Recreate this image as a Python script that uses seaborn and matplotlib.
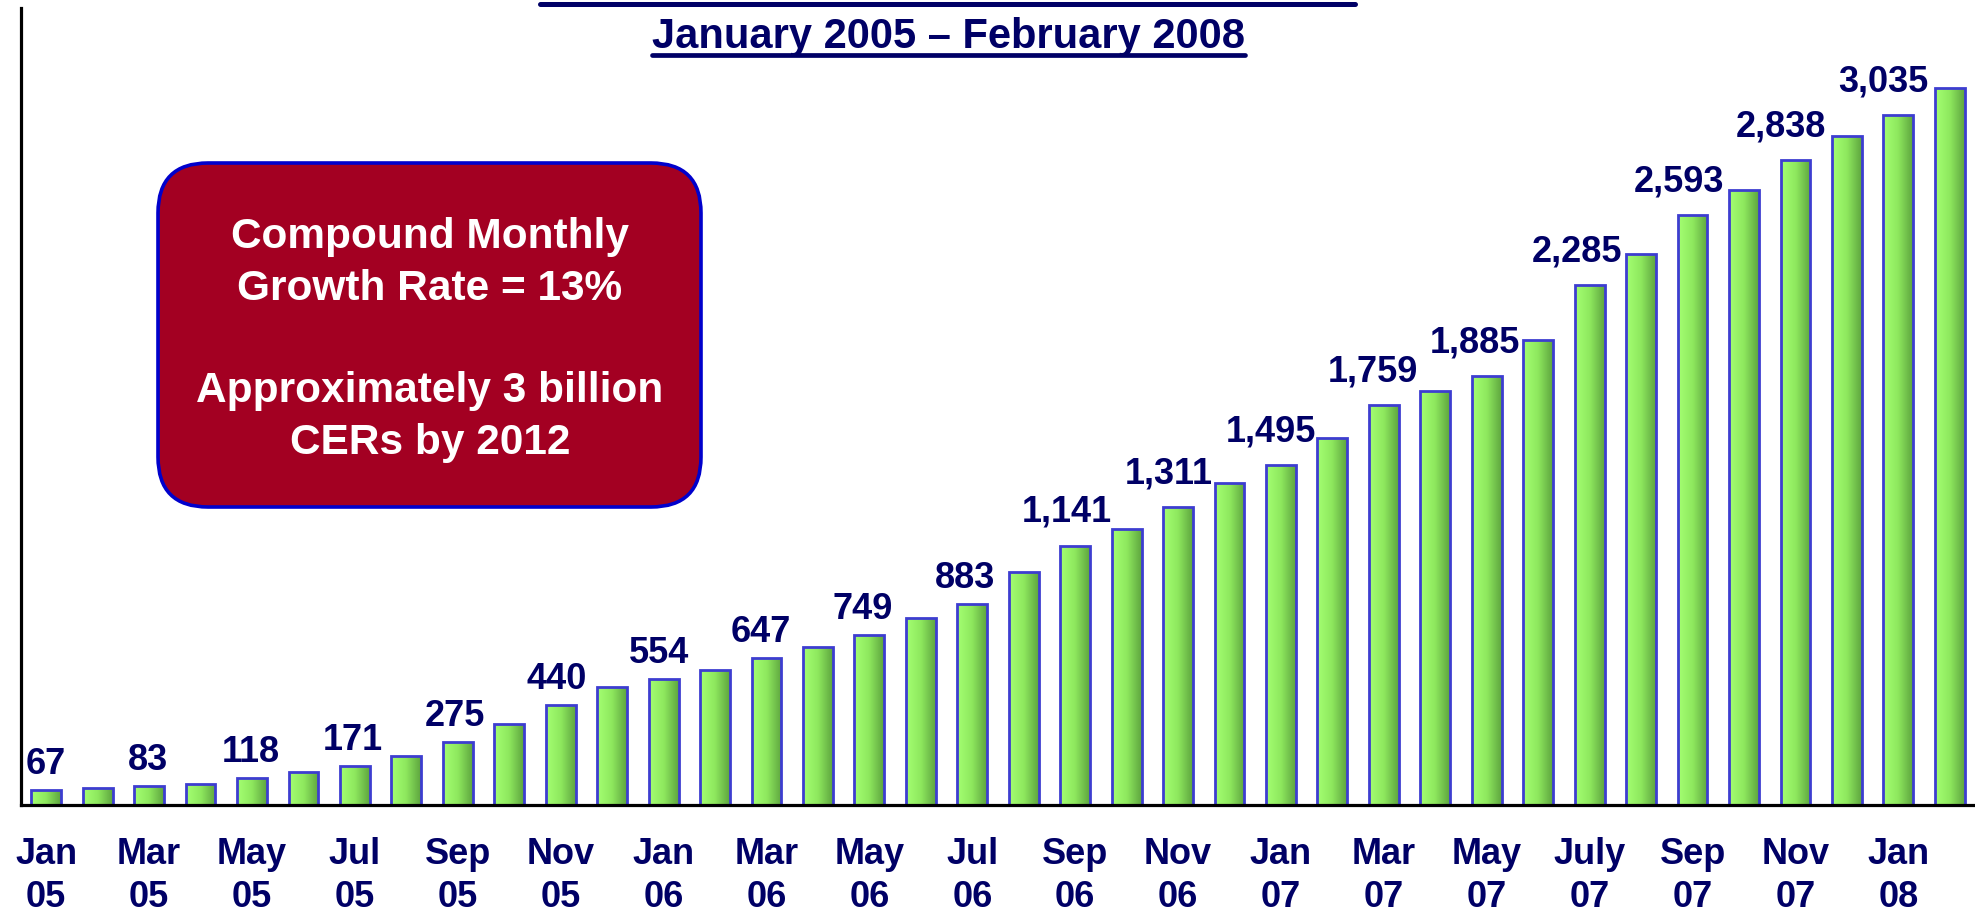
import numpy as np
import pandas as pd
import matplotlib
matplotlib.use("Agg")
import matplotlib.pyplot as plt
import seaborn as sns
from matplotlib.colors import LinearSegmentedColormap
from matplotlib.patches import FancyBboxPatch
from matplotlib.lines import Line2D

# --- data (cumulative CERs, millions) ---
months = [
    "Jan 05", "Feb 05", "Mar 05", "Apr 05", "May 05", "Jun 05", "Jul 05", "Aug 05",
    "Sep 05", "Oct 05", "Nov 05", "Dec 05", "Jan 06", "Feb 06", "Mar 06", "Apr 06",
    "May 06", "Jun 06", "Jul 06", "Aug 06", "Sep 06", "Oct 06", "Nov 06", "Dec 06",
    "Jan 07", "Feb 07", "Mar 07", "Apr 07", "May 07", "Jun 07", "Jul 07", "Aug 07",
    "Sep 07", "Oct 07", "Nov 07", "Dec 07", "Jan 08", "Feb 08",
]
cers = [
    67, 73, 83, 92, 118, 146, 171, 215, 275, 357, 440, 519, 554, 593, 647, 695,
    749, 821, 883, 1024, 1141, 1212, 1311, 1414, 1495, 1612, 1759, 1820, 1885, 2043,
    2285, 2425, 2593, 2703, 2838, 2944, 3035, 3152,
]
tick_labels = [
    "Jan\n05", "Mar\n05", "May\n05", "Jul\n05", "Sep\n05", "Nov\n05",
    "Jan\n06", "Mar\n06", "May\n06", "Jul\n06", "Sep\n06", "Nov\n06",
    "Jan\n07", "Mar\n07", "May\n07", "July\n07", "Sep\n07", "Nov\n07",
    "Jan\n08",
]
title = "January 2005 \u2013 February 2008"
box_text = "Compound Monthly\nGrowth Rate = 13%\n\nApproximately 3 billion\nCERs by 2012"

NAVY = "#000066"

sns.set_style("white")
plt.rcParams['font.family'] = ['Liberation Sans', 'DejaVu Sans']

df = pd.DataFrame({"month": months, "cers": cers})

W, H = 1975, 911
fig = plt.figure(figsize=(W / 100, H / 100), dpi=100)
ax = fig.add_axes([20.5 / W, 1 - 805 / H, 1 - 20.5 / W, (805 - 8) / H])

sns.barplot(data=df, x="month", y="cers", order=months, color="#8fe05a",
            saturation=1, width=0.58, edgecolor="#3d3dd0", linewidth=2,
            ax=ax, zorder=2)

# green left-to-right gradient inside every bar
cmap = LinearSegmentedColormap.from_list("bar", ["#a4ff72", "#8ee85e", "#5ea53f"])
grad = np.linspace(0, 1, 64).reshape(1, -1)
for patch in ax.patches:
    patch.set_facecolor("none")
    x0, y0 = patch.get_x(), patch.get_y()
    im = ax.imshow(grad, extent=[x0, x0 + patch.get_width(), y0, y0 + patch.get_height()],
                   aspect="auto", cmap=cmap, zorder=1.5, interpolation="bilinear")
    im.set_clip_path(patch)

ax.set_xlim(-0.50, 37.49)
ax.set_ylim(0, 3505)

# value labels on every second bar (labels with a comma sit a little higher,
# as in the original where the comma's descent lifts the text box)
for i in range(0, len(cers), 2):
    lift = 17 if cers[i] >= 1000 else 11.5
    ax.annotate(f"{cers[i]:,}", xy=(i, cers[i]), xytext=(-0.3 * i, lift),
                textcoords="offset points", ha="center", va="baseline",
                fontsize=26, fontweight="bold", color=NAVY)

ax.set_xticks(range(0, len(months), 2))
ax.set_xticklabels(tick_labels, fontsize=26, fontweight="bold", color=NAVY,
                   linespacing=1.29)
ax.tick_params(axis="x", length=0, pad=23)
ax.set_yticks([])
ax.set_xlabel("")
ax.set_ylabel("")
for side in ["top", "right"]:
    ax.spines[side].set_visible(False)
for side in ["left", "bottom"]:
    ax.spines[side].set_color("black")
    ax.spines[side].set_linewidth(2.3)

# rounded red call-out box
box = FancyBboxPatch((1.58, 4.04), 5.43, 3.44,
                     boxstyle="round,pad=0,rounding_size=0.5",
                     transform=fig.dpi_scale_trans, facecolor="#a30022",
                     edgecolor="#0000cc", linewidth=2.6, zorder=5)
fig.add_artist(box)
fig.text(4.30 / (W / 100), 1 - 340 / H, box_text, ha="center", va="center",
         fontsize=30.5, fontweight="bold", color="white", linespacing=1.37, zorder=6)

# title (second line of the original heading) with underline
t = fig.text(0.48, 1 - 48 / H, title, ha="center", va="baseline",
             fontsize=30, fontweight="bold", color=NAVY)
fig.canvas.draw()
bb = t.get_window_extent()
fig.add_artist(Line2D([bb.x0 / W, bb.x1 / W], [1 - 55 / H, 1 - 55 / H],
                      transform=fig.transFigure, color=NAVY, lw=3.4))
# underline of the heading's first line, which is cut off at the top
fig.add_artist(Line2D([540 / W, 1355 / W], [1 - 4.2 / H, 1 - 4.2 / H],
                      transform=fig.transFigure, color=NAVY, lw=3.6))

fig.savefig("out.png", dpi=100)
